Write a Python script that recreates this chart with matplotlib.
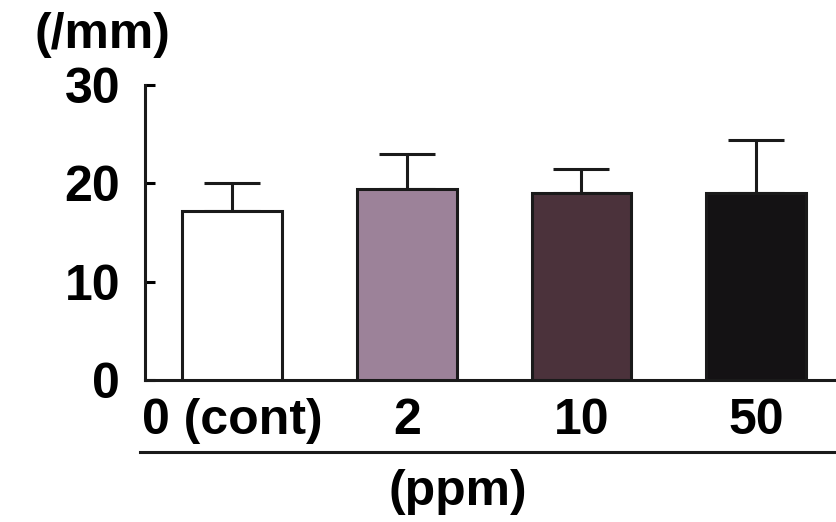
import matplotlib
matplotlib.use("Agg")
import matplotlib.pyplot as plt
from matplotlib.lines import Line2D

# doses and measured values (per mm)
doses = ["0 (cont)", "2", "10", "50"]
means = [17.2, 19.4, 19.0, 19.0]
errs = [2.8, 3.6, 2.5, 5.4]
colors = ["#ffffff", "#9c8299", "#4b323b", "#141214"]
yticks = [0, 10, 20, 30]

plt.rcParams["font.family"] = ["Liberation Sans", "DejaVu Sans"]
plt.rcParams["font.weight"] = "bold"
fs = 36

fig = plt.figure(figsize=(8.36, 5.22), dpi=100)
ax = fig.add_axes([145 / 836, 1 - 380 / 522, 1 - 145 / 836, (380 - 85) / 522])

x = list(range(len(doses)))
ax.bar(x, means, width=0.57, color=colors, edgecolor="#1a1a1a", linewidth=2.2, zorder=3)
ax.errorbar(x, means, yerr=[[0] * len(errs), errs], fmt="none", ecolor="#1a1a1a",
            elinewidth=2.2, capsize=20, capthick=2.2, zorder=2)

ax.set_xlim(-0.498, 3.457)
ax.set_ylim(0, 30)
ax.set_yticks(yticks)
ax.set_xticks(x)
ax.set_xticklabels(doses)
ax.tick_params(axis="y", direction="in", length=7, width=2.2, pad=18, labelsize=fs)
ax.tick_params(axis="x", length=0, pad=13, labelsize=fs)
for s in ["top", "right"]:
    ax.spines[s].set_visible(False)
for s in ["left", "bottom"]:
    ax.spines[s].set_linewidth(2.2)
    ax.spines[s].set_color("#1a1a1a")

fig.text(102 / 836, 1 - 35 / 522, "(/mm)", ha="center", va="center", fontsize=fs, fontweight="bold")
fig.add_artist(Line2D([140 / 836, 1.0], [1 - 452 / 522, 1 - 452 / 522],
                      transform=fig.transFigure, color="#1a1a1a", linewidth=2.2))
fig.text(458 / 836, 1 - 492 / 522, "(ppm)", ha="center", va="center", fontsize=fs, fontweight="bold")

fig.savefig("out.png", dpi=100)
